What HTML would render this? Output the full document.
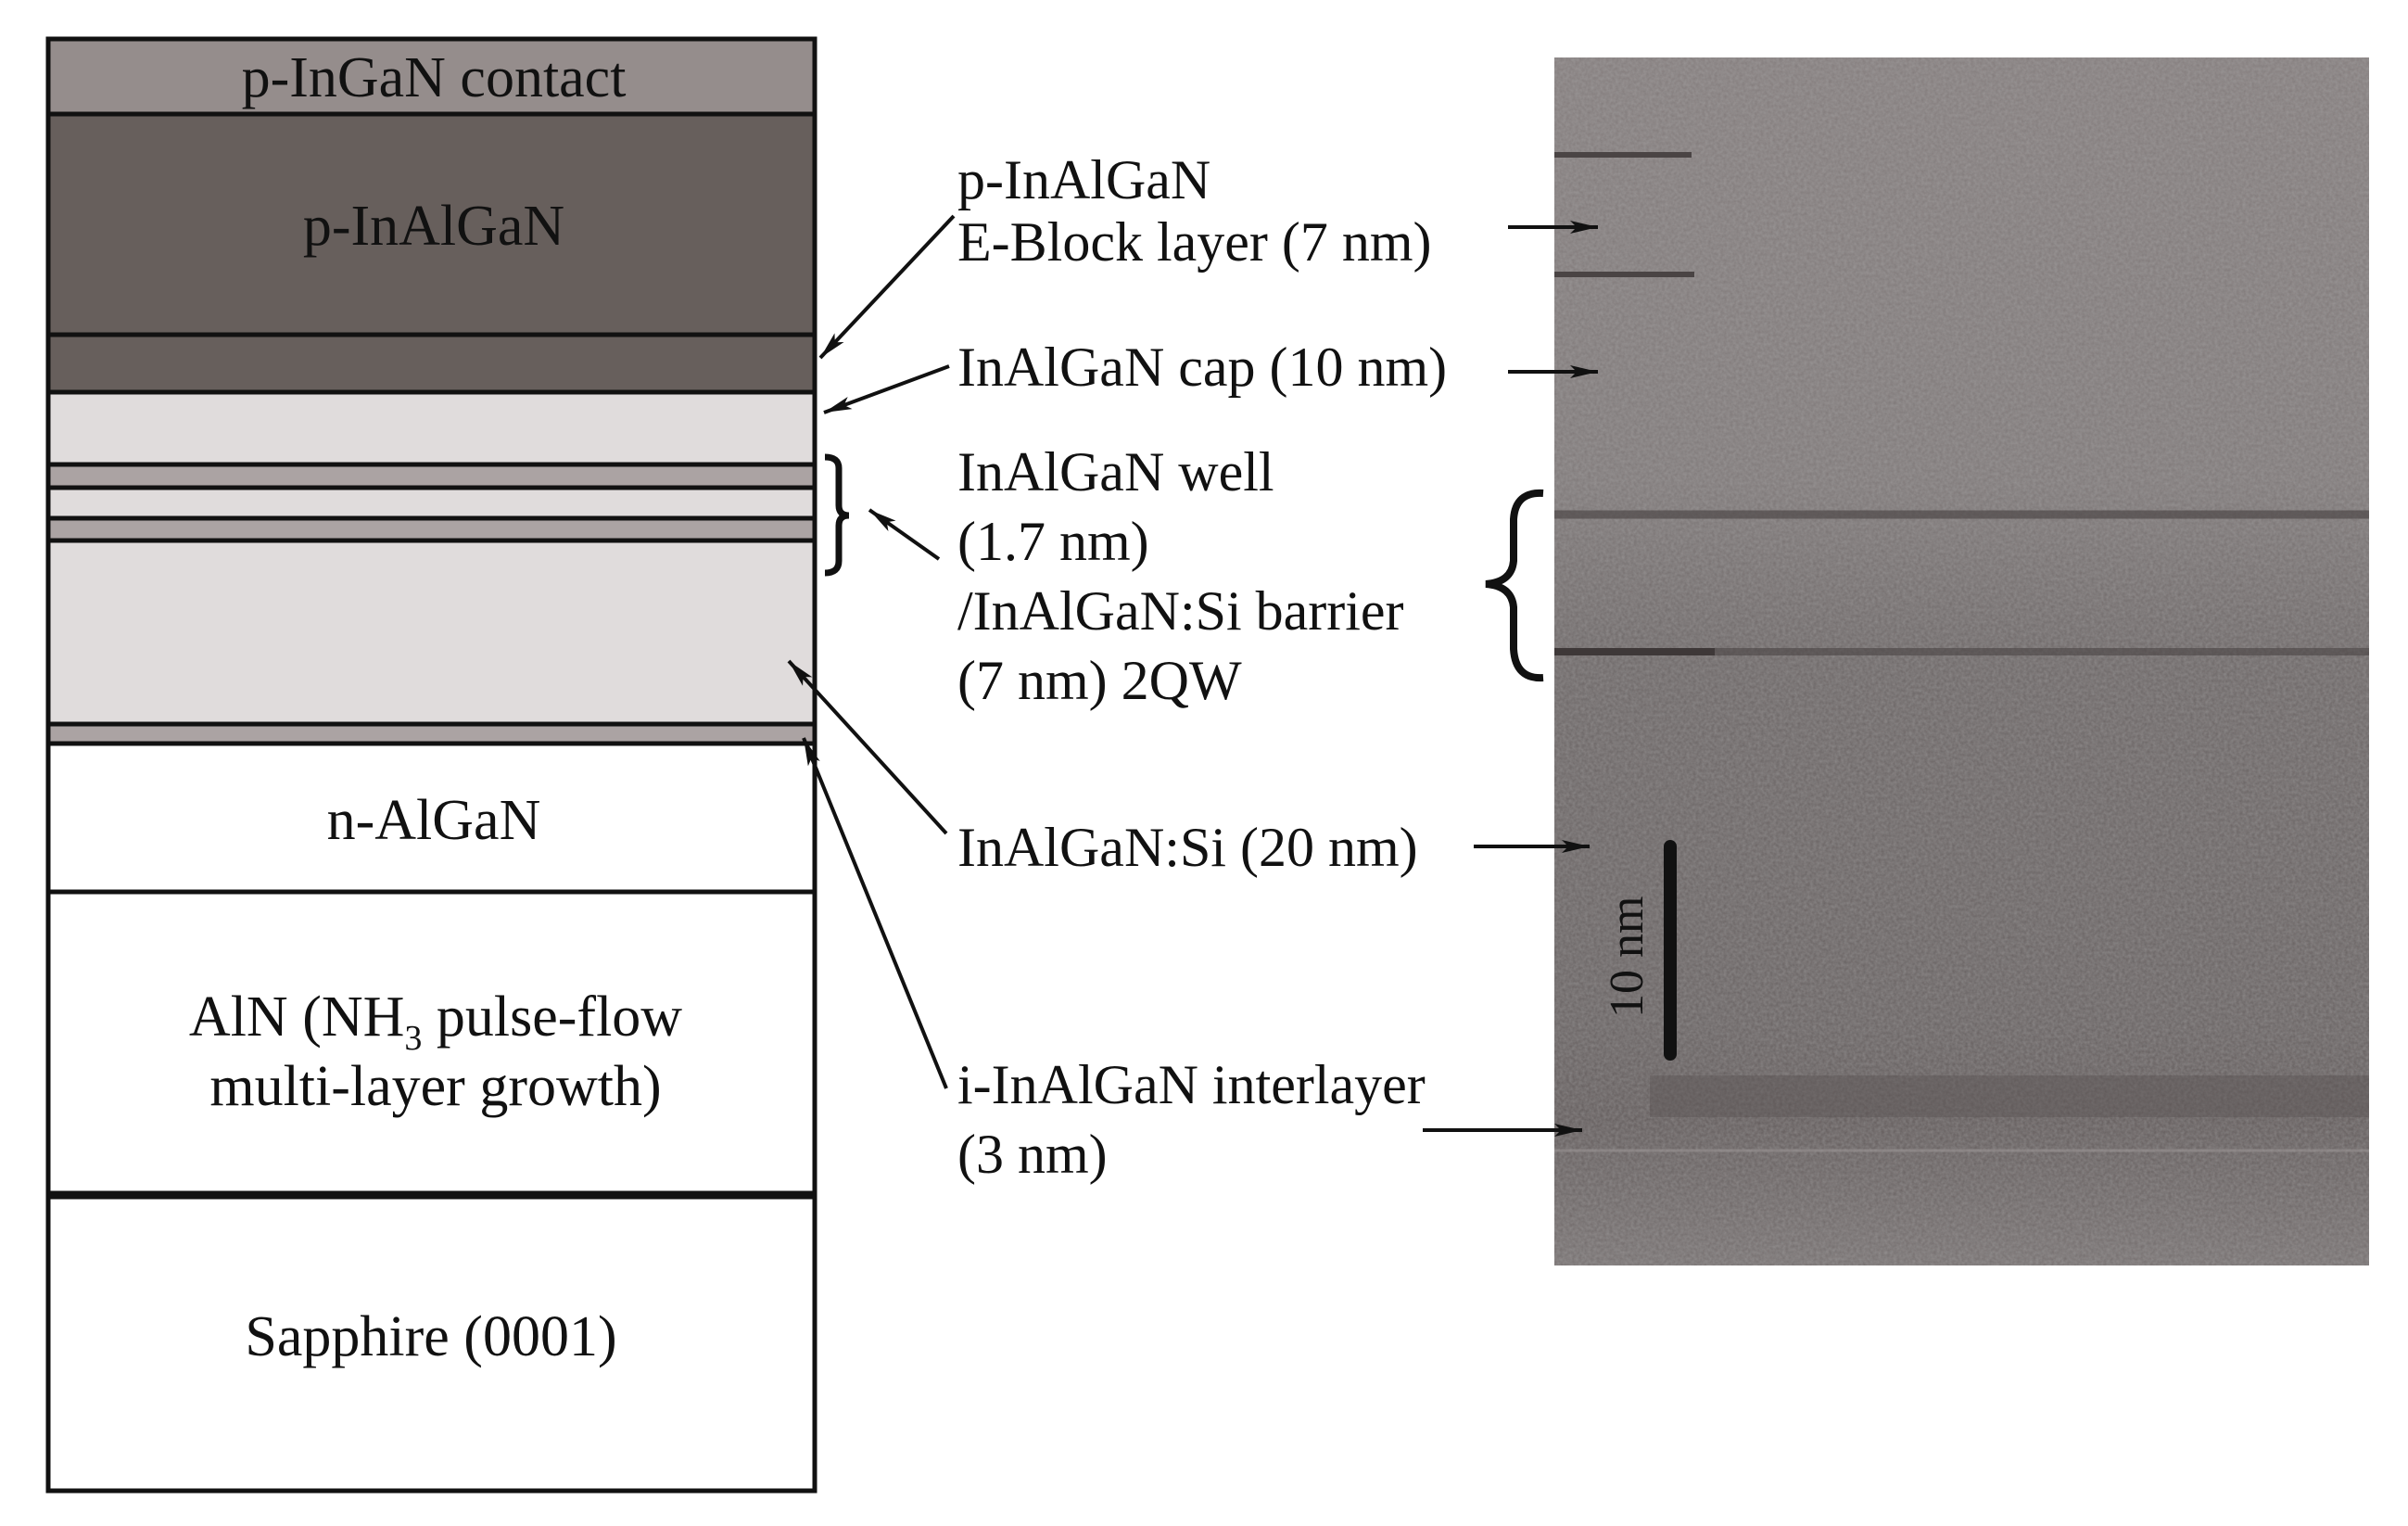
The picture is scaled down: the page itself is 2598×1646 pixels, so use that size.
<!DOCTYPE html>
<html><head><meta charset="utf-8"><style>html,body{margin:0;padding:0;background:#fff}svg{display:block}text{font-family:"Liberation Serif","Times New Roman",serif}</style></head>
<body>
<svg width="2598" height="1646" viewBox="0 0 2598 1646" xmlns="http://www.w3.org/2000/svg" font-family="'Liberation Serif', serif" fill="#111">
<defs>
<marker id="ah" viewBox="0 0 30 14" refX="30" refY="7" markerWidth="30" markerHeight="14" markerUnits="userSpaceOnUse" orient="auto"><path d="M0,0 L30,7 L0,14 L7,7 z" fill="#111"/></marker>
<filter id="noise" x="0" y="0" width="1" height="1" filterUnits="objectBoundingBox"><feTurbulence type="fractalNoise" baseFrequency="0.3" numOctaves="2" seed="3"/><feColorMatrix type="matrix" values="0 0 0 0 0.5  0 0 0 0 0.5  0 0 0 0 0.5  0 0 0 0.4 0"/></filter>
<linearGradient id="tem" x1="0" y1="0" x2="0" y2="1">
<stop offset="0" stop-color="#837c7c"/><stop offset="0.35" stop-color="#7e7878"/><stop offset="0.5" stop-color="#6c6666"/><stop offset="0.8" stop-color="#686262"/><stop offset="0.88" stop-color="#625b5b"/><stop offset="1" stop-color="#767070"/>
</linearGradient>
</defs>
<rect x="1677" y="62" width="879" height="1303" fill="url(#tem)"/>
<rect x="1677" y="62" width="879" height="1303" fill="#808080" filter="url(#noise)"/>
<g>
<line x1="1677" y1="167" x2="1825" y2="167" stroke="#4a4444" stroke-width="6"/>
<line x1="1677" y1="296" x2="1828" y2="296" stroke="#4a4444" stroke-width="6"/>
<line x1="1677" y1="555" x2="2556" y2="555" stroke="#4f4949" stroke-width="9" opacity="0.7"/>
<line x1="1677" y1="703" x2="2556" y2="703" stroke="#4a4444" stroke-width="8" opacity="0.6"/>
<line x1="1677" y1="703" x2="1850" y2="703" stroke="#3e3838" stroke-width="8"/>
<rect x="1780" y="1160" width="776" height="45" fill="#5b5454" opacity="0.45"/>
<line x1="1677" y1="1241" x2="2556" y2="1241" stroke="#9a9494" stroke-width="3" opacity="0.6"/>
</g>
<line x1="1802" y1="913" x2="1802" y2="1137" stroke="#111" stroke-width="14" stroke-linecap="round"/>
<text x="0" y="0" font-size="52" transform="translate(1772,1098) rotate(-90)" fill="#111">10 nm</text>
<g stroke="#111" stroke-width="5">
<rect x="52" y="42" width="827" height="81" fill="#958d8c"/>
<rect x="52" y="123" width="827" height="238" fill="#675f5c"/>
<rect x="52" y="361" width="827" height="62" fill="#675f5c"/>
<rect x="52" y="423" width="827" height="78" fill="#e0dcdc"/>
<rect x="52" y="501" width="827" height="25" fill="#aba3a3"/>
<rect x="52" y="526" width="827" height="33" fill="#e0dcdc"/>
<rect x="52" y="559" width="827" height="24" fill="#aba3a3"/>
<rect x="52" y="583" width="827" height="198" fill="#e0dcdc"/>
<rect x="52" y="781" width="827" height="21" fill="#aba3a3"/>
<rect x="52" y="802" width="827" height="160" fill="#fff"/>
<rect x="52" y="962" width="827" height="325" fill="#fff"/>
<rect x="52" y="1287" width="827" height="321" fill="#fff"/>
</g>
<line x1="52" y1="1289" x2="879" y2="1289" stroke="#111" stroke-width="9"/>
<g font-size="62" text-anchor="middle">
<text x="468" y="104">p-InGaN contact</text>
<text x="468" y="264">p-InAlGaN</text>
<text x="468" y="905">n-AlGaN</text>
<text x="470" y="1117">AlN (NH<tspan font-size="38" dy="15">3</tspan><tspan dy="-15"> pulse-flow</tspan></text>
<text x="470" y="1192">multi-layer growth)</text>
<text x="465" y="1462">Sapphire (0001)</text>
</g>
<path d="M890,493 Q905,493 905,505 L905,545 Q905,556 916,556 Q905,556 905,567 L905,605 Q905,618 890,618" fill="none" stroke="#111" stroke-width="7"/>
<g font-size="60">
<text x="1033" y="214">p-InAlGaN</text>
<text x="1033" y="281">E-Block layer (7 nm)</text>
<text x="1033" y="416">InAlGaN cap (10 nm)</text>
<text x="1033" y="529">InAlGaN well</text>
<text x="1033" y="604">(1.7 nm)</text>
<text x="1033" y="679">/InAlGaN:Si barrier</text>
<text x="1033" y="754">(7 nm) 2QW</text>
<text x="1033" y="934">InAlGaN:Si (20 nm)</text>
<text x="1033" y="1190">i-InAlGaN interlayer</text>
<text x="1033" y="1265">(3 nm)</text>
</g>
<g stroke="#111" stroke-width="4" fill="none">
<line x1="1029" y1="233" x2="885" y2="386" marker-end="url(#ah)"/>
<line x1="1024" y1="395" x2="889" y2="445" marker-end="url(#ah)"/>
<line x1="1013" y1="603" x2="938" y2="550" marker-end="url(#ah)"/>
<line x1="1021" y1="899" x2="851" y2="713" marker-end="url(#ah)"/>
<line x1="1021" y1="1174" x2="867" y2="796" marker-end="url(#ah)"/>
<line x1="1627" y1="245" x2="1724" y2="245" marker-end="url(#ah)"/>
<line x1="1627" y1="401" x2="1724" y2="401" marker-end="url(#ah)"/>
<line x1="1590" y1="913" x2="1715" y2="913" marker-end="url(#ah)"/>
<line x1="1535" y1="1219" x2="1707" y2="1219" marker-end="url(#ah)"/>
</g>
<path d="M1665,532 Q1635,530 1633,560 L1633,605 Q1631,628 1603,630 Q1631,632 1633,655 L1633,700 Q1635,733 1665,731" fill="none" stroke="#111" stroke-width="8"/>
</svg>
</body></html>
